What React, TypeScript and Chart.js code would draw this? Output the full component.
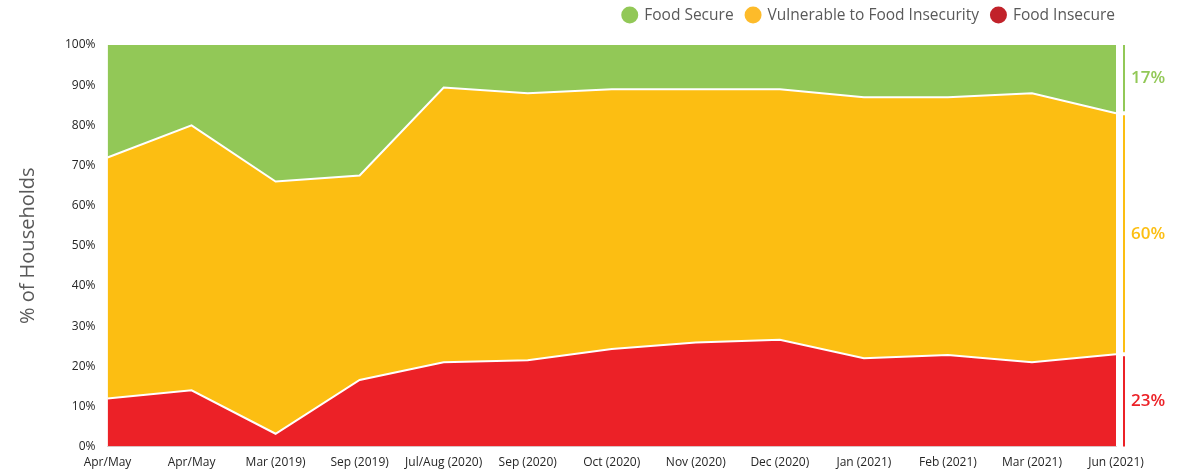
import React, { useEffect, useRef } from "react";
import { Chart, registerables } from "chart.js";

Chart.register(...registerables);

const periods = [
  "Apr/May", "Apr/May", "Mar (2019)", "Sep (2019)", "Jul/Aug (2020)", "Sep (2020)",
  "Oct (2020)", "Nov (2020)", "Dec (2020)", "Jan (2021)", "Feb (2021)", "Mar (2021)", "Jun (2021)",
];
const foodInsecure = [12, 14, 3.2, 16.6, 21, 21.5, 24.3, 25.9, 26.6, 22, 22.8, 21, 23];
const vulnerable = [60, 66, 62.8, 50.9, 68.4, 66.5, 64.7, 63.1, 62.4, 65, 64.2, 67, 60];
const foodSecure = [28, 20, 34, 32.5, 10.6, 12, 11, 11, 11, 13, 13, 12, 17];

const legendNames = ["Food Secure", "Vulnerable to Food Insecurity", "Food Insecure"];

const GREEN = "#92C857";
const YELLOW = "#FCBE12";
const RED = "#EC2127";
const LEGEND_RED = "#C1222A";
const LEGEND_YELLOW = "#FDBB2A";
const legendColors = [GREEN, LEGEND_YELLOW, LEGEND_RED];

const FONT = "'Open Sans', sans-serif";

// Legend row, right-aligned above the plot: dot followed by series name.
const topLegend = {
  id: "topLegend",
  afterDraw(chart: any) {
    const { ctx, chartArea } = chart;
    const r = 8.5;
    const dotGap = 6;
    const itemGap = 11;
    const cy = 15;
    ctx.save();
    ctx.font = `15.5px ${FONT}`;
    ctx.textBaseline = "middle";
    ctx.textAlign = "left";
    const widths = legendNames.map((n) => 2 * r + dotGap + ctx.measureText(n).width);
    const total = widths.reduce((a, b) => a + b, 0) + itemGap * (legendNames.length - 1);
    let x = chartArea.right - 1 - total;
    legendNames.forEach((name, i) => {
      ctx.fillStyle = legendColors[i];
      ctx.beginPath();
      ctx.arc(x + r, cy, r, 0, Math.PI * 2);
      ctx.fill();
      ctx.fillStyle = "#595959";
      ctx.fillText(name, x + 2 * r + dotGap, cy + 1);
      x += widths[i] + itemGap;
    });
    ctx.restore();
  },
};

// Draws the latest-period breakdown as coloured brackets with labels right of the plot.
const latestBreakdown = {
  id: "latestBreakdown",
  afterDraw(chart: any) {
    const { ctx, scales } = chart;
    const y = scales.y;
    const xPos = scales.x.right + 8;
    const last = periods.length - 1;
    const ins = foodInsecure[last];
    const vul = vulnerable[last];
    const sec = foodSecure[last];
    const segs = [
      { from: 0, to: ins, color: RED, label: `${ins}%` },
      { from: ins, to: ins + vul, color: YELLOW, label: `${vul}%` },
      { from: ins + vul, to: ins + vul + sec, color: GREEN, label: `${sec}%` },
    ];
    ctx.save();
    segs.forEach((s, i) => {
      const yb = y.getPixelForValue(s.from) - (i === 0 ? 0 : 2);
      const yt = y.getPixelForValue(s.to) + (i === segs.length - 1 ? 0 : 2);
      ctx.strokeStyle = s.color;
      ctx.lineWidth = 2;
      ctx.beginPath();
      ctx.moveTo(xPos, yb);
      ctx.lineTo(xPos, yt);
      ctx.stroke();
      ctx.fillStyle = s.color;
      ctx.font = `600 17px ${FONT}`;
      ctx.textAlign = "left";
      ctx.textBaseline = "middle";
      ctx.fillText(s.label, xPos + 7, (yb + yt) / 2);
    });
    ctx.restore();
  },
};

export default function App() {
  const ref = useRef<HTMLCanvasElement | null>(null);

  useEffect(() => {
    if (!ref.current) return;
    const chart = new Chart(ref.current, {
      type: "line",
      data: {
        labels: periods,
        datasets: [
          {
            label: "Food Insecure",
            data: foodInsecure,
            backgroundColor: RED,
            borderColor: "#ffffff",
            borderWidth: 2,
            fill: "origin",
            pointRadius: 0,
          },
          {
            label: "Vulnerable to Food Insecurity",
            data: vulnerable,
            backgroundColor: YELLOW,
            borderColor: "#ffffff",
            borderWidth: 2,
            fill: "-1",
            pointRadius: 0,
          },
          {
            label: "Food Secure",
            data: foodSecure,
            backgroundColor: GREEN,
            borderColor: "rgba(255,255,255,0)",
            borderWidth: 0,
            fill: "-1",
            pointRadius: 0,
          },
        ],
      },
      options: {
        animation: false,
        responsive: true,
        maintainAspectRatio: false,
        layout: { padding: { left: 16, right: 61, top: 45, bottom: -5 } },
        plugins: {
          tooltip: { enabled: false },
          legend: { display: false },
        },
        scales: {
          x: {
            offset: false,
            grid: { display: false, drawTicks: false },
            border: { display: true, color: "#d9d9d9", width: 1 },
            ticks: {
              color: "#262626",
              font: { family: FONT, size: 12 },
              maxRotation: 0,
              autoSkip: false,
              padding: 9,
            },
          },
          y: {
            stacked: true,
            min: 0,
            max: 100,
            grid: { display: false, drawTicks: false },
            border: { display: false },
            ticks: {
              stepSize: 10,
              color: "#262626",
              font: { family: FONT, size: 12 },
              padding: 12,
              callback: (v: any) => `${v}%`,
            },
            title: {
              display: true,
              text: "% of Households",
              color: "#595959",
              font: { family: FONT, size: 20 },
              padding: { top: 0, bottom: 13 },
            },
          },
        },
      },
      plugins: [topLegend, latestBreakdown],
    });
    return () => chart.destroy();
  }, []);

  return (
    <div style={{ position: "fixed", left: 0, top: 0, width: 1177, height: 474, background: "#fff" }}>
      <canvas ref={ref} />
    </div>
  );
}
